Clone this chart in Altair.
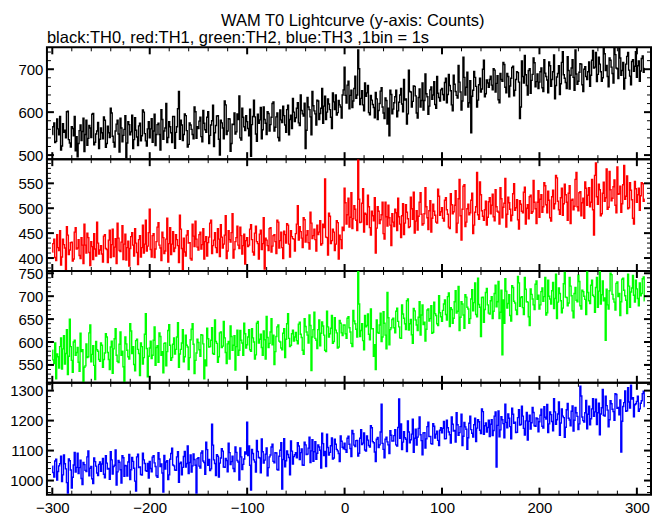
import altair as alt
import pandas as pd

# ---------------- data (counts per 1 s bin) ----------------
# even seconds: -300, -298, ..., 308 ; odd seconds: -299, -297, ..., 307
T_START = -300

th0_black_even = [
    548, 575, 532, 561, 590, 521, 553, 540, 602, 528, 566, 545, 510, 496, 557, 534, 586, 548, 523, 569, 541, 597, 530, 556, 515,
    563, 538, 581, 527, 552, 609, 544, 519, 572, 549, 586, 531, 560, 494, 578, 547, 593, 536, 558, 522, 574, 545, 600, 533, 561,
    540, 585, 556, 522, 571, 548, 606, 537, 563, 529, 578, 552, 590, 516, 566, 648, 581, 534, 596, 557, 525, 570, 548, 612, 539,
    562, 588, 531, 574, 553, 601, 546, 580, 520, 569, 592, 500, 575, 538, 617, 556, 584, 527, 571, 549, 596, 638, 535, 588, 557,
    578, 545, 497, 590, 589, 532, 574, 611, 559, 583, 548, 597, 571, 620, 556, 589, 541, 605, 576, 592, 553, 616, 583, 562, 600,
    587, 622, 569, 604, 591, 515, 634, 606, 547, 615, 596, 628, 583, 609, 574, 637, 600, 619, 588, 645, 606, 593, 627, 612, 640,
    705, 621, 672, 639, 611, 655, 632, 745, 618, 650, 603, 637, 662, 594, 628, 611, 646, 583, 620, 657, 598, 633, 572, 545, 641,
    607, 636, 589, 623, 655, 601, 628, 572, 698, 647, 625, 660, 598, 634, 612, 668, 627, 643, 595, 652, 630, 671, 609, 644, 626,
    655, 628, 679, 641, 662, 617, 686, 648, 633, 670, 605, 728, 640, 693, 622, 552, 651, 681, 612, 664, 647, 700, 636, 675, 658,
    684, 652, 698, 667, 629, 690, 672, 711, 645, 683, 661, 704, 638, 676, 692, 585, 719, 668, 687, 640, 701, 674, 726, 659, 689,
    670, 703, 648, 691, 675, 717, 660, 694, 631, 682, 708, 666, 741, 679, 655, 697, 686, 722, 651, 689, 672, 713, 664, 700, 683,
    694, 660, 721, 703, 739, 688, 712, 672, 748, 697, 683, 726, 705, 668, 734, 701, 751, 686, 716, 679, 730, 698, 664, 722, 707,
    681, 719, 696, 731, 702,
]
th0_black_odd = [
    566, 529, 584, 547, 512, 573, 558, 601, 536, 519, 562, 590, 543, 527, 570, 555, 508, 581, 539, 563, 595, 524, 549, 576, 537,
    552, 589, 518, 567, 541, 598, 530, 556, 581, 507, 563, 546, 592, 528, 571, 554, 515, 587, 542, 568, 533, 605, 550, 521, 578,
    561, 530, 595, 548, 574, 512, 583, 556, 620, 541, 566, 529, 590, 553, 608, 537, 570, 548, 592, 519, 575, 560, 538, 601, 566,
    579, 543, 604, 559, 588, 527, 570, 616, 552, 591, 537, 581, 563, 626, 548, 585, 509, 572, 598, 554, 583, 540, 609, 566, 592,
    562, 607, 571, 628, 549, 595, 582, 538, 612, 574, 601, 556, 588, 624, 565, 598, 533, 582, 614, 570, 606, 547, 593, 632, 578,
    609, 575, 640, 596, 621, 558, 612, 589, 648, 603, 570, 626, 597, 655, 614, 583, 631, 606, 562, 624, 640, 599, 617, 586, 652,
    639, 663, 608, 651, 626, 684, 640, 701, 632, 617, 668, 645, 599, 639, 618, 587, 631, 604, 649, 612, 585, 627, 609, 651, 596,
    622, 651, 603, 640, 619, 676, 631, 596, 648, 612, 661, 638, 586, 654, 627, 605, 689, 636, 614, 659, 640, 618, 683, 634, 652,
    641, 669, 622, 688, 650, 603, 665, 639, 709, 647, 626, 681, 658, 612, 673, 637, 695, 660, 628, 679, 654, 721, 643, 668, 676,
    663, 701, 647, 685, 622, 676, 716, 658, 690, 636, 679, 707, 651, 694, 670, 612, 683, 732, 662, 697, 644, 688, 715, 671, 655,
    694, 657, 722, 683, 645, 708, 676, 733, 662, 690, 641, 716, 687, 669, 729, 654, 703, 681, 745, 665, 693, 712, 648, 706, 676,
    717, 686, 744, 705, 671, 728, 694, 680, 736, 709, 659, 721, 690, 749, 703, 678, 726, 697, 654, 712, 739, 684, 718, 695, 741,
    708, 672, 725, 693,
]

th1_red_even = [
    412, 438, 395, 421, 455, 402, 427, 376, 446, 416, 432, 398, 461, 420, 405, 441, 389, 426, 450, 411, 433, 397, 418, 472, 408,
    425, 392, 447, 417, 436, 401, 458, 422, 389, 440, 413, 465, 428, 396, 434, 419, 451, 404, 430, 387, 445, 421, 410, 476, 424,
    498, 402, 449, 418, 462, 426, 395, 441, 414, 480, 429, 407, 453, 420, 437, 391, 458, 376, 412, 446, 430, 399, 468, 423, 438,
    416, 452, 427, 398, 443, 431, 470, 409, 436, 421, 459, 403, 442, 428, 485, 414, 437, 451, 400, 433, 464, 419, 445, 425, 388,
    441, 426, 467, 412, 450, 433, 398, 456, 429, 378, 436, 415, 461, 424, 447, 409, 472, 435, 421, 454, 430, 466, 402, 443, 438,
    449, 505, 463, 440, 481, 432, 455, 418, 470, 445, 437, 466, 452, 426, 468, 559, 441, 490, 429, 458, 415, 475, 398, 437, 462,
    540, 468, 520, 482, 459, 505, 476, 597, 471, 510, 452, 488, 526, 461, 494, 475, 410, 503, 469, 487, 449, 512, 464, 481, 425,
    472, 498, 455, 483, 441, 509, 470, 492, 461, 522, 478, 450, 495, 484, 531, 466, 489, 503, 457, 515, 480, 494, 472, 538, 486,
    501, 474, 521, 488, 459, 507, 493, 535, 470, 558, 436, 544, 463, 499, 487, 516, 449, 492, 572, 478, 527, 484, 497, 466, 513,
    489, 528, 475, 503, 492, 541, 481, 510, 462, 522, 498, 486, 549, 501, 477, 515, 494, 532, 468, 507, 523, 490, 556, 499, 512,
    482, 527, 503, 545, 491, 516, 474, 536, 509, 561, 497, 521, 486, 548, 512, 530, 469, 518, 504, 572, 495, 533, 511, 480, 540,
    526, 503, 558, 446, 591, 508, 537, 489, 552, 521, 498, 574, 515, 543, 506, 583, 529, 492, 547, 518, 565, 501, 536, 480, 554,
    512, 540, 525, 549, 518,
]
th1_red_odd = [
    429, 401, 447, 415, 386, 438, 420, 463, 407, 431, 394, 452, 418, 437, 399, 426, 468, 410, 441, 385, 423, 449, 404, 430, 416,
    408, 444, 419, 391, 456, 427, 403, 439, 470, 415, 432, 397, 448, 421, 384, 443, 426, 459, 411, 437, 402, 466, 428, 414, 451,
    417, 445, 401, 433, 471, 420, 452, 409, 438, 392, 461, 428, 413, 447, 425, 486, 419, 440, 404, 455, 431, 396, 444, 474, 422,
    447, 418, 459, 433, 404, 442, 476, 425, 451, 411, 438, 467, 420, 446, 399, 455, 432, 489, 417, 441, 426, 462, 408, 448, 435,
    423, 458, 437, 406, 464, 429, 448, 417, 481, 440, 425, 459, 412, 445, 433, 476, 420, 452, 399, 447, 469, 428, 455, 439, 414,
    468, 436, 453, 421, 477, 446, 431, 492, 439, 458, 414, 447, 475, 429, 461, 442, 406, 484, 435, 452, 428, 471, 446, 419, 455,
    511, 487, 462, 531, 479, 498, 455, 518, 472, 539, 490, 467, 503, 446, 485, 521, 460, 494, 477, 512, 438, 483, 506, 466, 489,
    463, 491, 520, 468, 485, 447, 507, 479, 463, 499, 532, 474, 456, 512, 488, 469, 541, 481, 495, 452, 508, 486, 470, 524, 493,
    480, 516, 497, 462, 529, 489, 506, 451, 519, 485, 498, 547, 472, 508, 491, 530, 466, 503, 487, 553, 495, 476, 514, 482, 521,
    506, 483, 537, 494, 468, 519, 502, 560, 488, 511, 475, 529, 496, 517, 458, 508, 491, 542, 500, 479, 526, 493, 512, 469, 535,
    518, 492, 551, 507, 534, 481, 523, 499, 566, 514, 488, 540, 509, 527, 476, 545, 516, 497, 558, 503, 531, 485, 520, 553, 506,
    541, 512, 497, 566, 523, 548, 485, 530, 514, 579, 502, 537, 520, 557, 491, 528, 544, 509, 586, 524, 499, 551, 517, 468, 539,
    527, 496, 551, 514,
]

th2_green_even = [
    582, 553, 520, 568, 590, 541, 614, 575, 529, 650, 560, 600, 571, 588, 536, 579, 513, 548, 566, 620, 557, 592, 518, 583, 562,
    598, 545, 576, 611, 562, 589, 532, 607, 571, 555, 622, 580, 514, 596, 568, 640, 575, 551, 603, 584, 527, 590, 566, 662, 524,
    587, 564, 604, 549, 592, 620, 571, 533, 598, 579, 638, 560, 595, 574, 611, 545, 584, 627, 568, 593, 540, 605, 640, 531, 576,
    599, 569, 615, 520, 548, 607, 590, 631, 573, 601, 556, 620, 588, 645, 577, 596, 563, 612, 593, 539, 626, 582, 604, 571, 618,
    594, 627, 580, 609, 563, 641, 598, 617, 571, 605, 656, 588, 622, 594, 551, 612, 637, 600, 583, 629, 606, 662, 590, 618, 602,
    621, 596, 643, 610, 573, 634, 615, 659, 538, 627, 608, 586, 648, 619, 635, 582, 667, 611, 630, 597, 653, 620, 589, 641, 614,
    637, 608, 655, 622, 590, 646, 628, 756, 612, 640, 583, 633, 661, 605, 629, 569, 540, 621, 637, 601, 666, 615, 708, 594, 631,
    652, 620, 674, 633, 608, 661, 640, 690, 626, 649, 597, 668, 637, 654, 615, 681, 643, 628, 672, 651, 619, 687, 658, 636, 664,
    645, 683, 660, 699, 634, 671, 652, 712, 667, 625, 688, 659, 703, 676, 641, 694, 668, 729, 655, 682, 612, 698, 671, 717, 663,
    690, 651, 706, 677, 732, 665, 572, 641, 711, 684, 658, 723, 689, 670, 743, 678, 699, 660, 715, 687, 636, 704, 681, 726, 693,
    672, 710, 689, 741, 664, 700, 683, 730, 695, 651, 718, 690, 674, 752, 697, 685, 722, 668, 706, 691, 746, 679, 713, 700, 660,
    708, 684, 735, 699, 719, 676, 754, 703, 690, 604, 681, 712, 747, 694, 670, 731, 706, 688, 739, 701, 662, 722, 709, 745, 687,
    716, 679, 701, 738, 690,
]
th2_green_odd = [
    561, 598, 574, 543, 609, 585, 552, 627, 569, 590, 534, 604, 577, 556, 619, 583, 545, 596, 568, 637, 573, 549, 601, 580, 558,
    593, 562, 618, 577, 540, 602, 585, 629, 558, 595, 571, 546, 611, 582, 563, 624, 590, 537, 606, 575, 598, 552, 617, 586, 569,
    602, 571, 633, 588, 556, 612, 579, 597, 548, 625, 593, 566, 609, 584, 642, 574, 598, 557, 615, 589, 566, 628, 595, 560, 606,
    583, 616, 596, 561, 630, 589, 604, 575, 648, 597, 568, 622, 591, 609, 553, 601, 635, 582, 614, 590, 571, 625, 598, 641, 587,
    611, 583, 629, 600, 572, 645, 606, 588, 624, 563, 610, 597, 651, 615, 579, 633, 602, 587, 619, 566, 640, 608, 593, 626, 611,
    603, 639, 617, 582, 651, 622, 598, 636, 611, 665, 604, 627, 592, 644, 615, 579, 633, 618, 658, 601, 626, 587, 647, 620, 637,
    618, 652, 631, 597, 669, 640, 611, 683, 625, 603, 658, 636, 617, 672, 629, 594, 648, 619, 663, 611, 641, 585, 653, 627, 649,
    631, 667, 645, 609, 681, 652, 627, 694, 640, 616, 673, 648, 625, 688, 659, 638, 602, 670, 646, 679, 621, 662, 640, 701, 655,
    669, 692, 648, 707, 675, 641, 688, 663, 721, 654, 683, 630, 698, 672, 651, 714, 686, 660, 739, 676, 697, 643, 708, 681, 661,
    699, 667, 724, 688, 651, 713, 692, 738, 674, 703, 646, 719, 685, 660, 729, 697, 675, 741, 688, 655, 716, 694, 671, 733, 702,
    681, 718, 699, 659, 735, 694, 712, 673, 748, 687, 706, 664, 727, 698, 679, 741, 701, 653, 719, 688, 732, 672, 710, 693, 753,
    690, 724, 702, 665, 741, 711, 683, 733, 696, 715, 672, 750, 704, 687, 728, 699, 658, 737, 713, 691, 748, 676, 718, 702, 735,
    695, 729, 706, 742,
]

th3_blue_even = [
    1048, 1012, 1071, 1030, 1056, 997, 1085, 1039, 958, 1066, 975, 1052, 1028, 1091, 1043, 1007, 1060, 1034, 1079, 1016, 1047, 990, 1063, 1025, 1054,
    1031, 1074, 1009, 1058, 1040, 1096, 1022, 1051, 985, 1067, 1036, 1083, 1014, 1049, 1062, 1003, 1077, 1041, 965, 1088, 1045, 1018, 1069, 1033, 1057,
    1064, 1029, 1083, 1047, 1011, 1072, 1055, 962, 1038, 1066, 1019, 1090, 1052, 1035, 1079, 994, 1061, 1044, 1097, 1057, 1023, 1085, 1049, 1070, 958,
    1076, 1042, 1099, 1060, 1128, 1051, 1033, 1188, 1069, 1017, 1081, 1058, 1106, 1045, 1074, 1029, 1093, 1063, 1040, 1112, 1067, 1002, 1079, 1054, 1095,
    1195, 1115, 968, 1090, 1062, 1134, 1077, 1026, 1096, 1068, 1109, 1043, 1085, 1121, 1059, 1092, 1035, 1101, 972, 1140, 1066, 1087, 1019, 1098, 1080,
    1093, 1126, 1070, 1105, 1051, 1119, 1088, 1145, 1099, 1064, 1130, 1091, 1112, 1042, 1123, 1097, 1155, 1085, 1116, 1072, 1138, 1104, 1090, 1149, 1111,
    1125, 1094, 1148, 1107, 1167, 1118, 1133, 1082, 1141, 1120, 1159, 1098, 1135, 1112, 1176, 1126, 1063, 1144, 1119, 1255, 1104, 1138, 1129, 1090, 1151,
    1132, 1170, 1115, 1272, 1189, 1128, 1143, 1097, 1162, 1136, 1205, 1141, 1118, 1174, 1153, 1086, 1160, 1139, 1195, 1147, 1122, 1181, 1155, 1134, 1168,
    1159, 1197, 1140, 1176, 1153, 1212, 1165, 1128, 1186, 1160, 1221, 1148, 1179, 1104, 1191, 1170, 1145, 1208, 1175, 1196, 1157, 1230, 1183, 1162, 1201,
    1188, 1150, 1215, 1045, 1232, 1169, 1203, 1143, 1194, 1222, 1180, 1241, 1191, 1160, 1210, 1185, 1248, 1174, 1199, 1135, 1218, 1193, 1227, 1181, 1206,
    1196, 1238, 1175, 1211, 1254, 1189, 1220, 1166, 1229, 1203, 1262, 1192, 1215, 1144, 1236, 1208, 1183, 1249, 1201, 1226, 1170, 1315, 1212, 1195, 1267,
    1221, 1186, 1239, 1214, 1271, 1226, 1153, 1243, 1218, 1281, 1235, 1203, 1256, 1230, 1290, 1241, 1219, 1095, 1247, 1299, 1233, 1262, 1318, 1276, 1253,
    1264, 1231, 1258, 1290, 1247,
]
th3_blue_odd = [
    1027, 1065, 1002, 1049, 1081, 1019, 1056, 993, 1072, 1035, 1011, 1094, 1044, 1023, 1068, 987, 1053, 1030, 1099, 1041, 1006, 1075, 1048, 1017, 1062,
    1055, 1021, 1083, 1038, 1004, 1069, 1047, 1102, 1029, 1061, 992, 1076, 1050, 1015, 1087, 1036, 1064, 998, 1079, 1043, 1020, 1091, 1057, 1031, 1008,
    1040, 1078, 1059, 1016, 1093, 1047, 1025, 1084, 1062, 1003, 1071, 1108, 1049, 1034, 1096, 1057, 1019, 1080, 1045, 1115, 1060, 1028, 1089, 1051, 1073,
    1048, 1092, 1065, 1021, 1103, 1070, 1039, 1118, 1057, 1086, 1012, 1075, 1098, 1044, 1067, 1125, 1053, 1081, 1030, 1094, 1062, 1109, 1037, 1072, 1088,
    1083, 1051, 1104, 1069, 1028, 1097, 1075, 1139, 1058, 1088, 1016, 1079, 1112, 1064, 1093, 1037, 1081, 1126, 1070, 1046, 1099, 1077, 1132, 1055, 1086,
    1076, 1115, 1093, 1052, 1128, 1087, 1108, 1060, 1136, 1096, 1071, 1119, 1101, 1158, 1083, 1047, 1110, 1094, 1142, 1075, 1121, 1099, 1063, 1131, 1106,
    1103, 1141, 1121, 1080, 1156, 1113, 1134, 1091, 1170, 1125, 1102, 1149, 1117, 1183, 1130, 1095, 1138, 1110, 1162, 1124, 1076, 1145, 1119, 1166, 1132,
    1150, 1119, 1177, 1141, 1103, 1163, 1138, 1199, 1126, 1155, 1094, 1171, 1145, 1212, 1133, 1159, 1108, 1180, 1147, 1123, 1190, 1142, 1165, 1117, 1176,
    1174, 1139, 1201, 1162, 1125, 1188, 1167, 1226, 1151, 1180, 1117, 1194, 1171, 1143, 1215, 1158, 1186, 1130, 1203, 1168, 1239, 1154, 1192, 1177, 1147,
    1203, 1167, 1229, 1184, 1146, 1213, 1190, 1255, 1176, 1208, 1139, 1221, 1195, 1161, 1236, 1187, 1215, 1152, 1227, 1198, 1172, 1244, 1183, 1209, 1163,
    1218, 1181, 1246, 1205, 1160, 1229, 1197, 1273, 1188, 1222, 1151, 1239, 1210, 1178, 1257, 1202, 1231, 1165, 1244, 1214, 1189, 1282, 1200, 1226, 1173,
    1248, 1206, 1273, 1229, 1187, 1258, 1222, 1304, 1215, 1250, 1179, 1266, 1238, 1201, 1287, 1244, 1269, 1198, 1260, 1231, 1310, 1242, 1272, 1213, 1256,
    1281, 1239, 1266, 1298,
]

# axis ranges and tick values
X_DOMAIN = [-305.5, 314.5]
X_MAJOR = [-300, -200, -100, 0, 100, 200, 300]
X_MINOR = [v for v in range(-300, 301, 20) if v % 100 != 0]

PANELS = [
    # even values, odd values, colour, y-domain, major ticks, minor ticks
    (th0_black_even, th0_black_odd, "#000000", [490.5, 751], [500, 600, 700],
     [v for v in range(500, 751, 20) if v % 100 != 0]),
    (th1_red_even, th1_red_odd, "#ff0000", [374, 598.5], [400, 450, 500, 550],
     [v for v in range(380, 600, 10) if v % 50 != 0]),
    (th2_green_even, th2_green_odd, "#00ff00", [511, 755], [550, 600, 650, 700, 750],
     [v for v in range(520, 755, 10) if v % 50 != 0]),
    (th3_blue_even, th3_blue_odd, "#0000ff", [953, 1326], [1000, 1100, 1200, 1300],
     [v for v in range(960, 1326, 20) if v % 100 != 0]),
]

TITLE = "WAM T0 Lightcurve (y-axis: Counts)"
SUBTITLE = "black:TH0, red:TH1, green:TH2, blue:TH3 ,1bin = 1s"

W, H = 605, 112
MAJ_LEN, MIN_LEN = 7, 4
FONT = "Liberation Sans"


def panel(even, odd, color, ydom, ymaj, ymin, show_x, title=None):
    t = [T_START + 2 * i for i in range(len(even))] + \
        [T_START + 1 + 2 * i for i in range(len(odd))]
    df = pd.DataFrame({"t": t, "c": even + odd}).sort_values("t")
    xs = alt.Scale(domain=X_DOMAIN, nice=False, zero=False)
    ys = alt.Scale(domain=ydom, nice=False, zero=False)
    xaxis = alt.Axis(values=X_MAJOR, format="d", title=None, ticks=False,
                     domain=False, grid=False, labelPadding=6,
                     labelFlush=False, labelOverlap=False) if show_x else None
    yaxis = alt.Axis(values=ymaj, format="d", title=None, ticks=False,
                     domain=False, grid=False, labelPadding=4,
                     labelFlush=False, labelOverlap=False)

    layers = [
        alt.Chart(df).mark_line(interpolate="step", color=color,
                                strokeWidth=1.4, clip=True).encode(
            x=alt.X("t:Q", scale=xs, axis=xaxis),
            y=alt.Y("c:Q", scale=ys, axis=yaxis),
        )
    ]
    # inward ticks on left / right edges
    for vals, ln, sw in [(ymaj, MAJ_LEN, 2), (ymin, MIN_LEN, 1)]:
        base = alt.Chart(pd.DataFrame({"c": vals}))
        layers.append(base.mark_rule(color="black", strokeWidth=sw).encode(
            y=alt.Y("c:Q", scale=ys, axis=yaxis),
            x=alt.value(0), x2=alt.value(ln)))
        layers.append(base.mark_rule(color="black", strokeWidth=sw).encode(
            y=alt.Y("c:Q", scale=ys, axis=yaxis),
            x=alt.value(W), x2=alt.value(W - ln)))
    # inward ticks on top / bottom edges
    for vals, ln, sw in [(X_MAJOR, MAJ_LEN, 2), (X_MINOR, MIN_LEN, 1)]:
        base = alt.Chart(pd.DataFrame({"t": vals}))
        layers.append(base.mark_rule(color="black", strokeWidth=sw).encode(
            x=alt.X("t:Q", scale=xs, axis=xaxis),
            y=alt.value(0), y2=alt.value(ln)))
        layers.append(base.mark_rule(color="black", strokeWidth=sw).encode(
            x=alt.X("t:Q", scale=xs, axis=xaxis),
            y=alt.value(H), y2=alt.value(H - ln)))

    ch = alt.layer(*layers).properties(width=W, height=H)
    if title is not None:
        ch = ch.properties(title=alt.TitleParams(
            title, anchor="start", frame="group", fontSize=16.5, font=FONT,
            fontWeight="normal", color="black", offset=0))
    return ch


charts = []
for i, (ev, od, col, ydom, ymaj, ymin) in enumerate(PANELS):
    charts.append(panel(ev, od, col, ydom, ymaj, ymin,
                        show_x=(i == len(PANELS) - 1),
                        title=SUBTITLE if i == 0 else None))

chart = alt.vconcat(*charts, spacing=0, bounds="flush").properties(
    title=alt.TitleParams(TITLE, anchor="middle", fontSize=16.5, font=FONT,
                          fontWeight="normal", color="black", offset=-1, dx=22),
    padding={"left": 0, "top": 5, "right": 0, "bottom": 0},
).configure_view(
    stroke="black", strokeWidth=2
).configure_axis(
    labelFont=FONT, labelFontSize=15, labelColor="black"
).configure_concat(spacing=0)

chart.save("out.html", embed_options={"renderer": "svg", "actions": False})
